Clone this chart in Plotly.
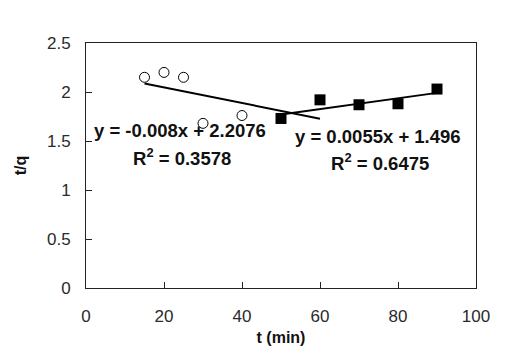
import plotly.graph_objects as go

# Data
t_open = [15, 20, 25, 30, 40]
tq_open = [2.15, 2.20, 2.15, 1.68, 1.76]
t_filled = [50, 60, 70, 80, 90]
tq_filled = [1.73, 1.92, 1.87, 1.88, 2.03]

# Trend lines (coefficients shown on chart) and their x-extents
trend1_slope, trend1_intercept = -0.008, 2.2076
trend1_x = [15, 60]
trend2_slope, trend2_intercept = 0.0055, 1.496
trend2_x = [50, 90]

eq1 = "y = -0.008x + 2.2076"
r1 = "R<sup>2</sup> = 0.3578"
eq2 = "y = 0.0055x + 1.496"
r2 = "R<sup>2</sup> = 0.6475"

FONT = "Liberation Sans, Arial, sans-serif"

fig = go.Figure()
fig.add_trace(go.Scatter(
    x=trend1_x, y=[trend1_slope * v + trend1_intercept for v in trend1_x],
    mode="lines", line=dict(color="black", width=2), showlegend=False))
fig.add_trace(go.Scatter(
    x=trend2_x, y=[trend2_slope * v + trend2_intercept for v in trend2_x],
    mode="lines", line=dict(color="black", width=2), showlegend=False))
fig.add_trace(go.Scatter(
    x=t_open, y=tq_open, mode="markers",
    marker=dict(symbol="circle-open", size=10, color="black", line=dict(width=1)),
    showlegend=False))
fig.add_trace(go.Scatter(
    x=t_filled, y=tq_filled, mode="markers",
    marker=dict(symbol="square", size=11, color="black"),
    showlegend=False))

ann_font = dict(family=FONT, size=18.5, color="#111111")
for text, x, y in [(eq1, 24.1, 1.61), (r1, 24.5, 1.335), (eq2, 74.9, 1.55), (r2, 75.4, 1.284)]:
    fig.add_annotation(x=x, y=y, xref="x", yref="y", text="<b>" + text + "</b>",
                       showarrow=False, font=ann_font, xanchor="center", yanchor="middle")

axis_common = dict(
    showgrid=False, zeroline=False, showline=True, mirror=True,
    linecolor="#222222", linewidth=1, ticks="inside", ticklen=6,
    tickcolor="#222222", tickfont=dict(family=FONT, size=17, color="#2a2a2a"),
    automargin=False,
)
fig.update_xaxes(range=[0, 100], dtick=20, tick0=0, ticklabelstandoff=13,
                 title=dict(text="<b>t (min)</b>", font=dict(family=FONT, size=16, color="#111111"),
                            standoff=6),
                 **axis_common)
fig.update_yaxes(range=[0, 2.5], dtick=0.5, tick0=0, ticklabelstandoff=11,
                 title=dict(text="<b>t/q</b>", font=dict(family=FONT, size=16, color="#111111"),
                            standoff=16),
                 **axis_common)

# page body has an 8px margin, so the figure is sized/offset to compensate
fig.update_layout(
    width=503, height=344,
    margin=dict(l=78, r=35, t=35, b=64),
    paper_bgcolor="white", plot_bgcolor="white",
    font=dict(family=FONT),
)
fig.write_html("out.html")
